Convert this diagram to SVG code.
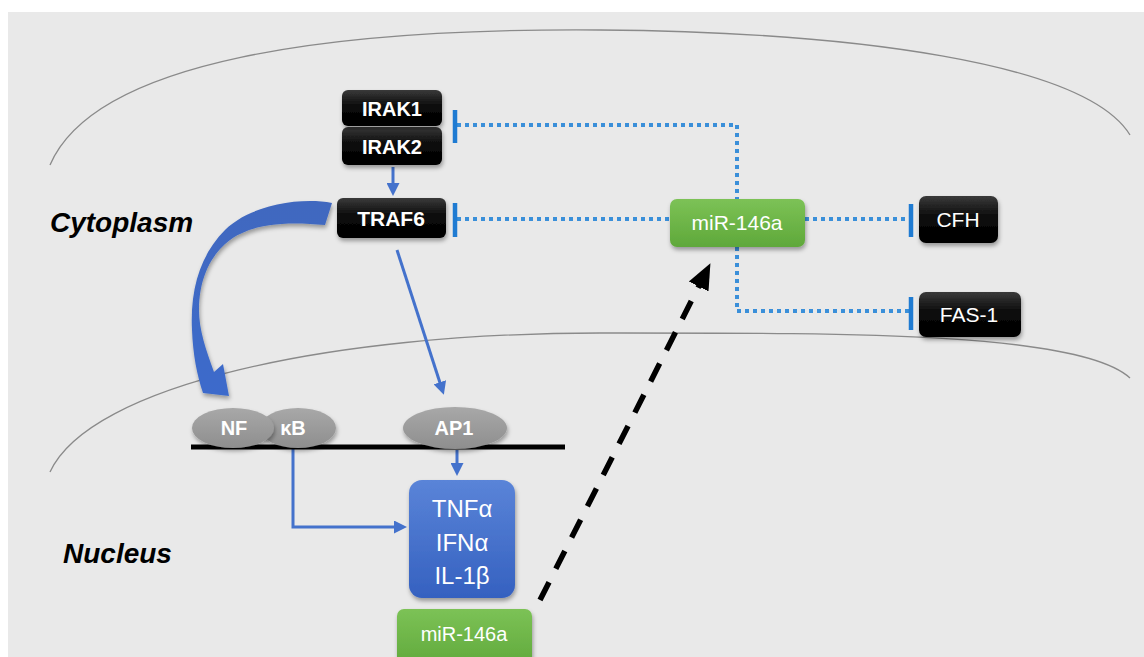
<svg xmlns="http://www.w3.org/2000/svg" width="1144" height="657" viewBox="0 0 1144 657">
<defs>
<style>
.blk{fill:url(#gBlack);filter:url(#sh)}
.bt{font-family:"Liberation Sans",Arial,sans-serif;font-weight:bold;fill:#fff;text-anchor:middle}
.rt{font-family:"Liberation Sans",Arial,sans-serif;fill:#fff;text-anchor:middle}
.dot{fill:none;stroke:#3a8fd9;stroke-width:4;stroke-dasharray:4 4}
.bar{stroke:#1f7bd2;stroke-width:4.5}
.arr{fill:none;stroke:#4472cc;stroke-width:3}
.lbl{font-family:"Liberation Sans",Arial,sans-serif;font-weight:bold;font-style:italic;font-size:28px;fill:#000}
.mem{fill:none;stroke:#8a8a8a;stroke-width:1.3}
.ell{fill:url(#gGray);filter:url(#sh)}
</style>
<linearGradient id="gBlack" x1="0" y1="0" x2="0" y2="1">
<stop offset="0" stop-color="#3a3a3a"/><stop offset="0.45" stop-color="#0a0a0a"/><stop offset="1" stop-color="#000"/>
</linearGradient>
<linearGradient id="gGreen" x1="0" y1="0" x2="0" y2="1">
<stop offset="0" stop-color="#7cc256"/><stop offset="1" stop-color="#5fa83a"/>
</linearGradient>
<linearGradient id="gBlue" x1="0" y1="0" x2="0" y2="1">
<stop offset="0" stop-color="#5a84d8"/><stop offset="1" stop-color="#3561c0"/>
</linearGradient>
<linearGradient id="gGray" x1="0" y1="0" x2="0" y2="1">
<stop offset="0" stop-color="#a8a8a8"/><stop offset="1" stop-color="#8e8e8e"/>
</linearGradient>
<linearGradient id="gCurve" x1="0" y1="0" x2="0" y2="1">
<stop offset="0" stop-color="#4068bf"/><stop offset="1" stop-color="#3d6bcb"/>
</linearGradient>
<filter id="sh" x="-20%" y="-20%" width="140%" height="160%">
<feDropShadow dx="1" dy="3" stdDeviation="2" flood-color="#000" flood-opacity="0.35"/>
</filter>
<marker id="mBlue" markerWidth="13" markerHeight="13" refX="7" refY="6.5" orient="auto" markerUnits="userSpaceOnUse">
<path d="M0,0 L13,6.5 L0,13 Z" fill="#4472cc"/>
</marker>
<marker id="mBlk" markerWidth="26" markerHeight="26" refX="14" refY="13" orient="auto" markerUnits="userSpaceOnUse">
<path d="M0,2 L26,13 L0,24 Z" fill="#000"/>
</marker>
</defs>

<rect x="0" y="0" width="1144" height="657" fill="#fff"/>
<rect x="8" y="12" width="1136" height="645" fill="#e9e9e9"/>

<g id="membranes">
<path class="mem" d="M50,165 C95,60 330,28 600,30 C850,32 1085,62 1130,135"/>
<path class="mem" d="M50,472 C90,385 330,333 600,333 C850,333 1080,332 1130,378"/>
</g>

<text class="lbl" x="50" y="232">Cytoplasm</text>
<text class="lbl" x="63" y="563">Nucleus</text>

<g id="connectors">
<path class="dot" d="M457,125 H737 V199"/>
<path class="dot" d="M457,219 H670"/>
<path class="dot" d="M805,219 H909"/>
<path class="dot" d="M737,247 V311 H909"/>
<line class="bar" x1="455" y1="110" x2="455" y2="143"/>
<line class="bar" x1="455" y1="203" x2="455" y2="237"/>
<line class="bar" x1="911" y1="204" x2="911" y2="237"/>
<line class="bar" x1="911" y1="297" x2="911" y2="330"/>
<line class="arr" x1="393" y1="167" x2="393" y2="190" marker-end="url(#mBlue)"/>
<line class="arr" x1="397" y1="250" x2="442" y2="389" stroke-width="3.5" marker-end="url(#mBlue)"/>
<line class="arr" x1="457" y1="450" x2="457" y2="470" marker-end="url(#mBlue)"/>
<path class="arr" d="M293,449 V527 H401" marker-end="url(#mBlue)"/>
<path fill="url(#gCurve)" filter="url(#sh)" d="M332,203 C300,197 250,205 225,230 C200,255 190,290 192,330 C193,355 197,375 203,393 L229,396 L223,364 L214,372 C206,350 199,330 199,310 C199,280 210,255 230,240 C255,222 290,222 325,225 Z"/>
<line x1="540" y1="600" x2="705" y2="274" stroke="#000" stroke-width="5.5" stroke-dasharray="20 15" marker-end="url(#mBlk)"/>
</g>

<g id="IRAK2"><rect class="blk" x="342" y="127" width="100" height="38" rx="6"/><text class="bt" x="392" y="154" font-size="20">IRAK2</text></g>
<g id="IRAK1"><rect class="blk" x="342" y="90" width="100" height="36" rx="6"/><text class="bt" x="392" y="116" font-size="20">IRAK1</text></g>
<g id="TRAF6"><rect class="blk" x="337" y="198" width="109" height="40" rx="6"/><text class="bt" x="391" y="226" font-size="21">TRAF6</text></g>
<g id="miR146a-top"><rect x="670" y="199" width="135" height="48" rx="7" fill="url(#gGreen)" filter="url(#sh)"/><text class="rt" x="737" y="230" font-size="21">miR-146a</text></g>
<g id="CFH"><rect class="blk" x="919" y="196" width="79" height="47" rx="7"/><text class="rt" x="958" y="227" font-size="21">CFH</text></g>
<g id="FAS1"><rect class="blk" x="919" y="292" width="102" height="45" rx="7"/><text class="rt" x="969" y="322" font-size="21">FAS-1</text></g>

<g id="DNA"><line x1="191" y1="447" x2="565" y2="447" stroke="#000" stroke-width="5"/></g>
<g id="kB"><ellipse class="ell" cx="298" cy="428" rx="38" ry="20"/><text class="bt" x="293" y="435" font-size="20">κB</text></g>
<g id="NF"><ellipse class="ell" cx="233" cy="428" rx="41" ry="20"/><text class="bt" x="234" y="435" font-size="20">NF</text></g>
<g id="AP1"><ellipse class="ell" cx="455" cy="428" rx="52" ry="21"/><text class="bt" x="454" y="435" font-size="20">AP1</text></g>

<g id="cytokines"><rect x="409" y="480" width="106" height="118" rx="13" fill="url(#gBlue)" filter="url(#sh)"/>
<text class="rt" x="462" y="517" font-size="24">TNFα</text>
<text class="rt" x="462" y="551" font-size="24">IFNα</text>
<text class="rt" x="462" y="584" font-size="24">IL-1β</text></g>
<g id="miR146a-bottom"><rect x="397" y="609" width="135" height="60" rx="7" fill="url(#gGreen)" filter="url(#sh)"/><text class="rt" x="464" y="641" font-size="20">miR-146a</text></g>
</svg>
